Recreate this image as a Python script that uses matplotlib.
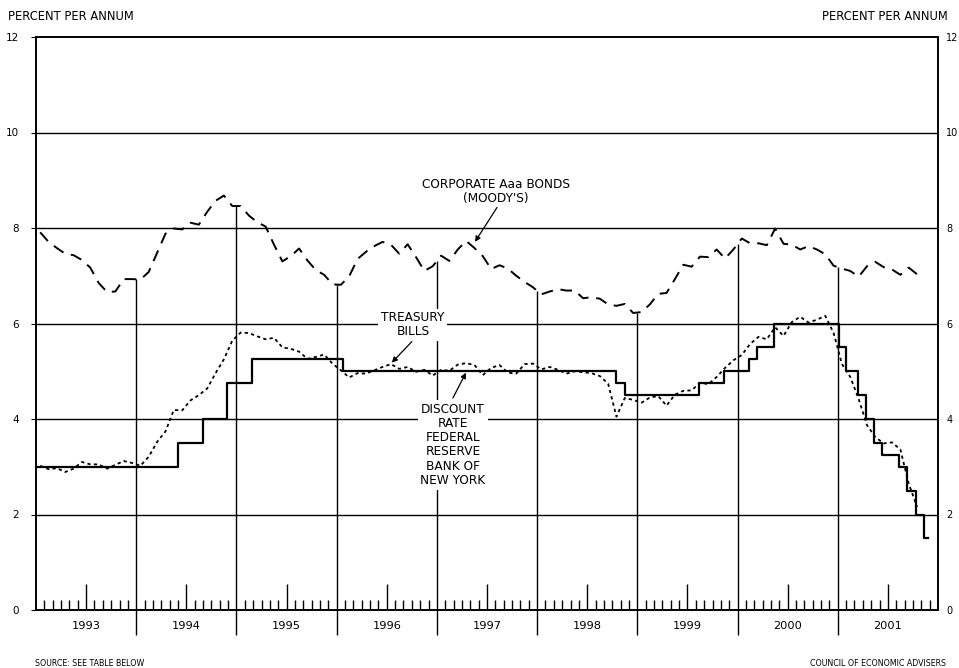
import matplotlib.pyplot as plt
import numpy as np
import pandas as pd

# Monthly values, Jan 1993 - Oct 2001 (percent per annum)
bond_aaa = [
    7.91, 7.71, 7.58, 7.46, 7.43, 7.33, 7.17, 6.85, 6.66, 6.67, 6.93, 6.93,   # 1993
    6.92, 7.08, 7.48, 7.88, 7.99, 7.97, 8.11, 8.07, 8.34, 8.57, 8.68, 8.46,   # 1994
    8.46, 8.26, 8.12, 8.03, 7.65, 7.30, 7.41, 7.57, 7.32, 7.12, 7.02, 6.82,   # 1995
    6.81, 6.99, 7.35, 7.50, 7.62, 7.71, 7.65, 7.46, 7.66, 7.39, 7.10, 7.20,   # 1996
    7.42, 7.31, 7.55, 7.73, 7.58, 7.41, 7.14, 7.22, 7.15, 7.00, 6.87, 6.76,   # 1997
    6.61, 6.67, 6.72, 6.69, 6.69, 6.53, 6.55, 6.52, 6.40, 6.37, 6.41, 6.22,   # 1998
    6.24, 6.40, 6.62, 6.64, 6.93, 7.23, 7.19, 7.40, 7.39, 7.55, 7.36, 7.55,   # 1999
    7.78, 7.68, 7.68, 7.64, 7.99, 7.67, 7.65, 7.55, 7.62, 7.55, 7.45, 7.21,   # 2000
    7.15, 7.10, 6.98, 7.20, 7.29, 7.18, 7.13, 7.02, 7.17, 7.03,               # 2001
]

tbills = [
    3.02, 2.95, 2.97, 2.89, 2.96, 3.10, 3.05, 3.05, 2.96, 3.04, 3.12, 3.08,   # 1993
    3.02, 3.21, 3.52, 3.74, 4.19, 4.18, 4.39, 4.50, 4.64, 4.96, 5.25, 5.64,   # 1994
    5.81, 5.80, 5.73, 5.67, 5.70, 5.50, 5.47, 5.41, 5.26, 5.30, 5.35, 5.16,   # 1995
    5.02, 4.87, 4.96, 4.95, 5.02, 5.09, 5.15, 5.05, 5.09, 4.99, 5.03, 4.91,   # 1996
    5.03, 5.01, 5.14, 5.17, 5.13, 4.92, 5.07, 5.13, 4.97, 4.95, 5.15, 5.16,   # 1997
    5.04, 5.09, 5.03, 4.95, 5.00, 4.98, 4.96, 4.90, 4.74, 4.05, 4.44, 4.40,   # 1998
    4.34, 4.45, 4.48, 4.28, 4.51, 4.59, 4.60, 4.76, 4.73, 4.88, 5.07, 5.23,   # 1999
    5.34, 5.57, 5.72, 5.67, 5.92, 5.74, 6.03, 6.14, 6.02, 6.08, 6.16, 5.80,   # 2000
    5.15, 4.88, 4.42, 3.87, 3.62, 3.49, 3.51, 3.36, 2.64, 2.16,               # 2001
]

# Discount rate, Federal Reserve Bank of New York (effective dates)
discount_dates = [
    '1993-01-01', '1994-06-01', '1994-09-01', '1994-11-27', '1995-02-25',
    '1996-01-24', '1998-10-15', '1998-11-16', '1999-08-13', '1999-11-12',
    '2000-02-12', '2000-03-13', '2000-05-14', '2001-01-04', '2001-01-31',
    '2001-03-14', '2001-04-14', '2001-05-13', '2001-06-12', '2001-08-12',
    '2001-09-10', '2001-10-12', '2001-11-10', '2001-11-24',
]
discount_rates = [
    3.00, 3.50, 4.00, 4.75, 5.25,
    5.00, 4.75, 4.50, 4.75, 5.00,
    5.25, 5.50, 6.00, 5.50, 5.00,
    4.50, 4.00, 3.50, 3.25, 3.00,
    2.50, 2.00, 1.50, 1.50,
]

years = list(range(1993, 2002))
y_ticks = [0, 2, 4, 6, 8, 10, 12]


def to_decimal_year(dates):
    d = pd.to_datetime(dates)
    days = np.where(d.is_leap_year, 366, 365)
    return np.asarray(d.year + (d.dayofyear - 1) / days, dtype=float)


t_month = 1993 + (np.arange(len(bond_aaa)) + 0.5) / 12
t_disc = to_decimal_year(discount_dates)

plt.rcParams['font.family'] = ['DejaVu Sans']

fig = plt.figure(figsize=(9.59, 6.68), dpi=100)
ax = fig.add_axes([36 / 959, 58 / 668, 902 / 959, 573 / 668])

ax.set_xlim(1993, 2002)
ax.set_ylim(0, 12)

# horizontal rules
for v in y_ticks[1:-1]:
    ax.axhline(v, color='black', lw=1.0, zorder=1)

# year separators: from below the axis up to the bond line
bounds = np.array(years[1:], dtype=float)
tops = np.interp(bounds, t_month, bond_aaa)
ax.vlines(bounds, -0.53, tops, color='black', lw=1.0, zorder=1, clip_on=False)

ax.plot(t_month, bond_aaa, color='black', lw=1.4, dashes=(6, 4), zorder=3)
ax.plot(t_month, tbills, color='black', lw=1.3, dashes=(1.8, 1.8), zorder=3)
ax.step(t_disc, discount_rates, where='post', color='black', lw=1.6, zorder=4)

# y labels on both sides
ax.set_yticks(y_ticks)
ax.tick_params(axis='y', left=False, labelsize=7.5, pad=8.5)
ax2 = ax.twinx()
ax2.set_ylim(0, 12)
ax2.set_yticks(y_ticks)
ax2.tick_params(axis='y', right=False, labelsize=7, pad=2.5)
for a in (ax, ax2):
    for s in a.spines.values():
        s.set_linewidth(1.2)

# months along the bottom, years centred
ax.set_xticks([y + 0.5 for y in years])
ax.set_xticklabels([str(y) for y in years])
ax.set_xticks([y + m / 12 for y in years for m in range(1, 12) if m != 6], minor=True)
ax.tick_params(axis='x', which='major', direction='in', length=19, width=1.0,
               labelsize=8.2, pad=8)
ax.tick_params(axis='x', which='minor', direction='in', length=7, width=1.0)

box = dict(facecolor='white', edgecolor='none', pad=2)
arrow = dict(arrowstyle='-|>', color='black', lw=0.9, mutation_scale=8,
             shrinkA=0, shrinkB=0)

ax.text(1997.59, 8.77, "CORPORATE Aaa BONDS\n(MOODY'S)", ha='center', va='center',
        fontsize=8.7, linespacing=1.1, zorder=6)
ax.annotate('', xy=(1997.38, 7.71), xytext=(1997.60, 8.43), arrowprops=arrow, zorder=6)

ax.text(1996.76, 5.97, "TREASURY\nBILLS", ha='center', va='center', fontsize=8.7,
        linespacing=1.1, bbox=box, zorder=6)
ax.annotate('', xy=(1996.55, 5.18), xytext=(1996.75, 5.62), arrowprops=arrow, zorder=6)

ax.text(1997.16, 3.46, "DISCOUNT\nRATE\nFEDERAL\nRESERVE\nBANK OF\nNEW YORK",
        ha='center', va='center', fontsize=8.7, linespacing=1.13, bbox=box, zorder=6)
ax.annotate('', xy=(1997.29, 4.97), xytext=(1997.16, 4.44), arrowprops=arrow, zorder=6)

fig.text(8 / 959, 1 - 17 / 668, 'PERCENT PER ANNUM', ha='left', va='center', fontsize=8.3)
fig.text(948 / 959, 1 - 17 / 668, 'PERCENT PER ANNUM', ha='right', va='center', fontsize=8.3)
fig.text(35 / 959, 1 - 664 / 668, 'SOURCE: SEE TABLE BELOW', ha='left', va='center',
         fontsize=5.7)
fig.text(946 / 959, 1 - 664 / 668, 'COUNCIL OF ECONOMIC ADVISERS', ha='right',
         va='center', fontsize=5.7)

fig.savefig('out.png', dpi=100)
